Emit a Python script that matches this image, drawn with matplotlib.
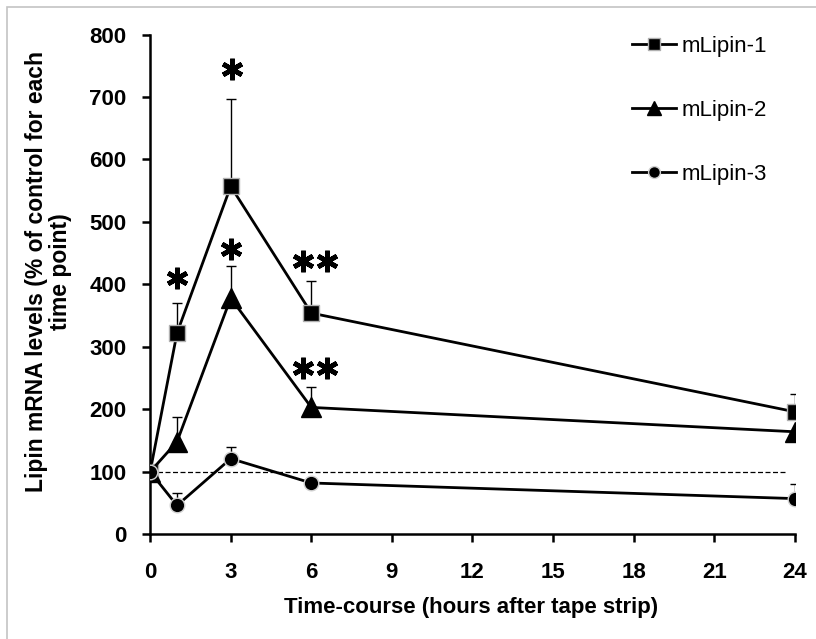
import numpy as np
import matplotlib.pyplot as plt
from matplotlib.patches import Rectangle

plt.rcParams['font.family'] = ['Liberation Sans', 'DejaVu Sans']

# horas apos tape strip
tempo = [0, 1, 3, 6, 24]

lipin1 = [100, 322, 557, 354, 196]
lipin1_err = [0, 48, 140, 51, 29]
lipin2 = [100, 148, 378, 203, 164]
lipin2_err = [0, 40, 52, 32, 0]
lipin3 = [100, 46, 121, 82, 57]
lipin3_err = [0, 20, 19, 0, 23]

# asteriscos de significancia, um por ponto
estrelas_x = [1, 3.05, 3.02, 5.7, 6.6, 5.7, 6.6]
estrelas_y = [410, 744, 456, 437, 437, 266, 266]

fig = plt.figure(figsize=(8.16, 6.39), dpi=100)
ax = fig.add_axes([0.184, 0.164, 0.79, 0.782])

# moldura cinza da figura
fig.patches.append(Rectangle((7 / 816, -0.05), 1.1, 1 - 7 / 639 + 0.05,
                             transform=fig.transFigure, fill=False,
                             edgecolor='#c4c4c4', linewidth=1.2))

ax.axhline(100, color='black', linestyle=(0, (4, 2)), linewidth=0.9, xmax=0.985, zorder=1)

series = [
    (lipin1, lipin1_err, 's', 'mLipin-1', 11.5, 9, '#b0b0b0'),
    (lipin2, lipin2_err, '^', 'mLipin-2', 14, 10.5, 'black'),
    (lipin3, lipin3_err, 'o', 'mLipin-3', 10.5, 8.5, '#d0d0d0'),
]
handles = []
for vals, err, mk, nome, ms, ms_leg, edge in series:
    ax.errorbar(tempo, vals, yerr=[np.zeros(len(err)), err], fmt='none',
                ecolor='black', elinewidth=1.0, capsize=3.5, capthick=1.0, zorder=2)
    ax.plot(tempo, vals, color='black', linewidth=2, marker=mk, markersize=ms,
            markerfacecolor='black', markeredgecolor=edge, markeredgewidth=1, zorder=3)
    h, = ax.plot([], [], color='black', linewidth=2, marker=mk, markersize=ms_leg,
                 markerfacecolor='black', markeredgecolor=edge, markeredgewidth=1)
    handles.append(h)

ax.plot(estrelas_x, estrelas_y, linestyle='none', marker=(6, 2, 0), markersize=15.5,
        markeredgewidth=3.4, color='black', zorder=4)

ax.set_xlim(0, 24)
ax.set_ylim(0, 800)
ax.set_xticks(np.arange(0, 25, 3))
ax.set_yticks(np.arange(0, 801, 100))
for s in ['top', 'right']:
    ax.spines[s].set_visible(False)
for s in ['left', 'bottom']:
    ax.spines[s].set_linewidth(1.8)
ax.tick_params(direction='out', length=6, width=1.8, labelsize=16)
ax.tick_params(axis='x', pad=14)
ax.tick_params(axis='y', pad=11)
for lab in ax.get_xticklabels() + ax.get_yticklabels():
    lab.set_fontweight('bold')

fig.text(471 / 816, 1 - 607 / 639, 'Time-course (hours after tape strip)',
         fontsize=16, fontweight='bold', ha='center', va='center')
fig.text(48.5 / 816, 1 - 272 / 639, 'Lipin mRNA levels (% of control for each\ntime point)',
         fontsize=16.5, fontweight='bold', ha='center', va='center', rotation=90,
         multialignment='center', linespacing=1.05)

fig.legend(handles, ['mLipin-1', 'mLipin-2', 'mLipin-3'], loc='upper left',
           bbox_to_anchor=(632 / 816, 1 - 36 / 639), frameon=False, fontsize=16,
           labelspacing=1.94, handlelength=2.0, handletextpad=0.22,
           borderpad=0, borderaxespad=0)

fig.savefig('out.png', dpi=100)
